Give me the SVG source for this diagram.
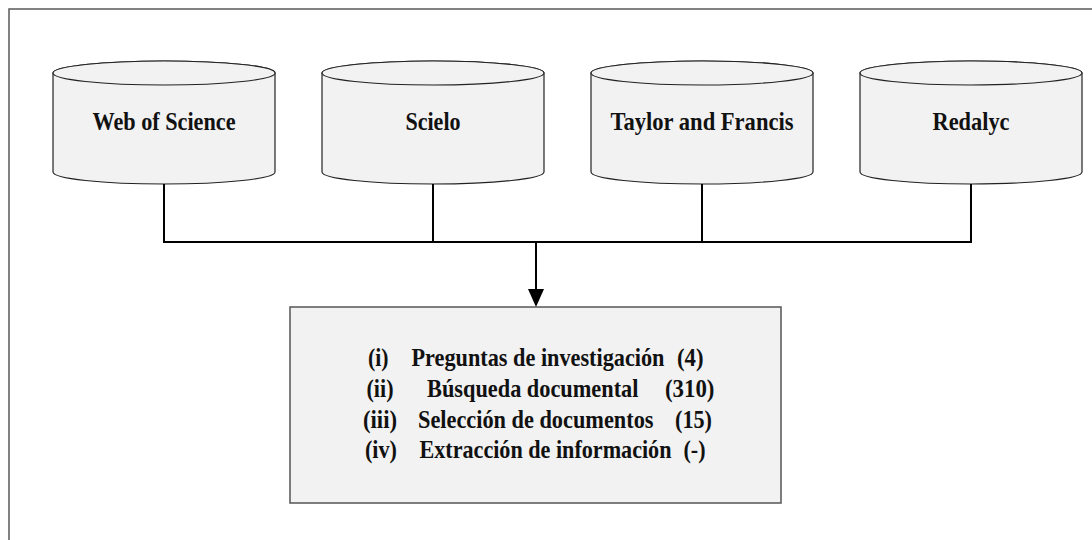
<svg xmlns="http://www.w3.org/2000/svg" width="1092" height="540" viewBox="0 0 1092 540">
  <defs>
    <style>
      .frame { fill: #ffffff; stroke: #5a5a5a; stroke-width: 1.5; }
      .db { fill: #f2f2f2; stroke: #222222; stroke-width: 1.2; }
      .box { fill: #f2f2f2; stroke: #555555; stroke-width: 1.5; }
      .wire { fill: none; stroke: #000000; stroke-width: 2; }
      .lbl { font-family: "Liberation Serif", "Times New Roman", serif; font-weight: bold; font-size: 22px; fill: #111111; }
      .mid { text-anchor: middle; }
    </style>
    <!-- database cylinder, 222 wide, origin at its top-left corner -->
    <g id="cyl">
      <path class="db" d="M0,12 L0,111 A111,12 0 0 0 222,111 L222,12 A111,12 0 0 0 0,12 Z"/>
      <ellipse class="db" cx="111" cy="12" rx="111" ry="12"/>
    </g>
  </defs>

  <rect class="frame" x="9" y="9" width="1110" height="560"/>

  <!-- labels are drawn slightly tall: each line is stretched vertically about its baseline -->
  <g id="node-wos">
    <use href="#cyl" x="53" y="61"/>
    <g transform="translate(0,130) scale(1,1.1)">
      <text class="lbl mid" x="164" y="0" textLength="143" lengthAdjust="spacingAndGlyphs">Web of Science</text>
    </g>
  </g>
  <g id="node-scielo">
    <use href="#cyl" x="322" y="61"/>
    <g transform="translate(0,130) scale(1,1.1)">
      <text class="lbl mid" x="433" y="0" textLength="55" lengthAdjust="spacingAndGlyphs">Scielo</text>
    </g>
  </g>
  <g id="node-taylor">
    <use href="#cyl" x="591" y="61"/>
    <g transform="translate(0,130) scale(1,1.1)">
      <text class="lbl mid" x="702" y="0" textLength="183" lengthAdjust="spacingAndGlyphs">Taylor and Francis</text>
    </g>
  </g>
  <g id="node-redalyc">
    <use href="#cyl" x="860" y="61"/>
    <g transform="translate(0,130) scale(1,1.1)">
      <text class="lbl mid" x="971" y="0" textLength="77" lengthAdjust="spacingAndGlyphs">Redalyc</text>
    </g>
  </g>

  <g id="connectors">
    <path class="wire" d="M164,184 V242 M433,184 V242 M702,184 V242 M971,184 V242 M163,242 H972"/>
    <path class="wire" d="M536,242 V290"/>
    <polygon points="528,289 544,289 536,307" fill="#000000"/>
  </g>

  <g id="node-process">
    <rect class="box" x="290" y="307" width="491" height="196"/>
    <g transform="translate(0,366) scale(1,1.1)">
      <text class="lbl" x="368" y="0" textLength="20.5" lengthAdjust="spacingAndGlyphs">(i)</text>
      <text class="lbl" x="411.5" y="0" textLength="253" lengthAdjust="spacingAndGlyphs">Preguntas de investigación</text>
      <text class="lbl" x="677" y="0" textLength="26.5" lengthAdjust="spacingAndGlyphs">(4)</text>
    </g>
    <g transform="translate(0,397) scale(1,1.1)">
      <text class="lbl" x="366.5" y="0" textLength="27" lengthAdjust="spacingAndGlyphs">(ii)</text>
      <text class="lbl" x="427" y="0" textLength="211.5" lengthAdjust="spacingAndGlyphs">Búsqueda documental</text>
      <text class="lbl" x="665" y="0" textLength="49.5" lengthAdjust="spacingAndGlyphs">(310)</text>
    </g>
    <g transform="translate(0,428) scale(1,1.1)">
      <text class="lbl" x="363" y="0" textLength="34" lengthAdjust="spacingAndGlyphs">(iii)</text>
      <text class="lbl" x="418" y="0" textLength="235.5" lengthAdjust="spacingAndGlyphs">Selección de documentos</text>
      <text class="lbl" x="675" y="0" textLength="37" lengthAdjust="spacingAndGlyphs">(15)</text>
    </g>
    <g transform="translate(0,458) scale(1,1.1)">
      <text class="lbl" x="365" y="0" textLength="32" lengthAdjust="spacingAndGlyphs">(iv)</text>
      <text class="lbl" x="419.5" y="0" textLength="252" lengthAdjust="spacingAndGlyphs">Extracción de información</text>
      <text class="lbl" x="683.5" y="0" textLength="22" lengthAdjust="spacingAndGlyphs">(-)</text>
    </g>
  </g>
</svg>
